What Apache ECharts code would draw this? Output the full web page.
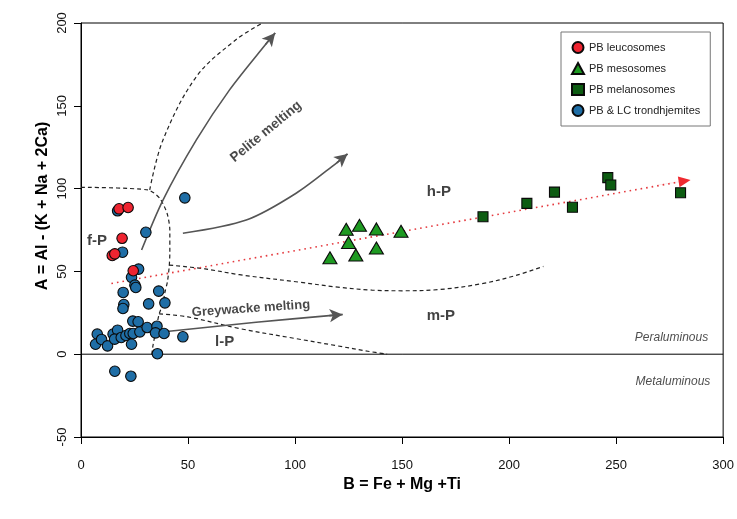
<!DOCTYPE html>
<html>
<head>
<meta charset="utf-8">
<script src="https://cdn.jsdelivr.net/npm/echarts@6/dist/echarts.min.js"></script>
<style>html,body{margin:0;padding:0;background:#fff}#c{width:737px;height:519px}</style>
</head>
<body>
<div id="c"></div>
<script>
// ---- data (B, A) ----
const leucosomes = [[17.8,87.8],[22.0,88.6],[19.2,70.0],[14.6,59.6],[15.8,60.6],[24.4,50.4]];
const mesosomes = [[123.9,75.4],[130.1,77.8],[138.0,75.6],[149.5,74.2],[125.0,67.5],[138.0,64.1],[128.4,59.9],[116.3,58.2]];
const melanosomes = [[187.8,83.0],[208.3,91.1],[221.2,97.9],[229.6,88.7],[246.1,106.6],[247.5,102.2],[280.1,97.5]];
const trondhjemites = [
  [48.5,94.4],[30.3,73.6],[19.4,61.6],[17.1,86.6],[26.9,51.4],[23.6,46.4],[25.2,41.7],[25.6,40.3],
  [19.7,37.3],[36.3,38.1],[20.0,30.0],[19.6,27.6],[31.6,30.4],[39.2,31.0],[24.2,20.0],[26.7,19.6],
  [7.6,12.1],[6.8,6.0],[9.6,8.9],[12.4,5.0],[15.0,12.1],[17.1,14.5],[15.7,9.1],[18.8,10.1],
  [21.0,11.3],[22.8,12.5],[24.4,12.5],[23.6,6.0],[27.5,13.5],[30.9,16.1],[35.5,16.9],[34.8,12.9],
  [38.8,12.5],[47.6,10.5],[35.7,0.3],[15.8,-10.3],[23.3,-13.3]
];
// ---- field boundaries & trends ----
const peliteArrow1 = [[28.3,62.9],[38.3,93.1],[53.9,129.4],[69.4,159.6],[86.2,187.0],[90.7,193.9]];
const peliteArrow2 = [[47.6,73],[77.2,81],[100.5,97.2],[119.5,115.6],[124.5,120.9]];
const greywackeArrow = [[40,13.7],[81.8,19.3],[116,23.3],[122.2,24]];
const peliteBoundary = [[32.1,99.2],[38.3,129.4],[53.9,167.6],[72.5,190],[84.9,200]];
const fpBoundary = [[0,100.8],[31.3,99.2],[36.8,94.1],[40.2,85.1],[41.5,75],[41.5,60.9],[41.2,52.8],[40.4,44],[39.1,36.7],[38.3,30.6],[36.5,24.2],[35,14.5],[33.6,5],[32.9,-2]];
const hpBoundary = [[41.2,53.8],[58,51.5],[74,48],[102,43.5],[120,40.5],[136,38.7],[150,38.3],[167,39],[187,42.5],[203,47.5],[216,53]];
const lpBoundary = [[36.5,24.4],[50,22.5],[74,15.5],[100,9.5],[120,5],[134,1.8],[143,0]];
const redTrend = [[14.2,42.7],[282,104.6]];
const zeroLine = [[0,0],[300,0]];
// ---- axes ----
const xTicks = {min:0, max:300, step:50};
const yTicks = {min:-50, max:200, step:50};
const xTitle = 'B = Fe + Mg +Ti';
const yTitle = 'A = Al - (K + Na + 2Ca)';
// ---- text labels ----
const annotations = [
  {name:'f-P', value:[7.5,68.3]},
  {name:'h-P', value:[167.2,97.9]},
  {name:'m-P', value:[168.1,23]},
  {name:'l-P', value:[67.1,7.3]}
];

const FONT = '"Liberation Sans", Arial, Helvetica, sans-serif';
const blk = '#000';

function dashed(data, extra) {
  return Object.assign({
    type:'line', data:data, smooth:0.35, symbol:'none', silent:true, z:2,
    lineStyle:{color:'#222', width:1.2, type:[4,3]}
  }, extra||{});
}
function arrow(data) {
  const n = data.length;
  return {
    type:'line', data:data, smooth:0.3, symbol:'none', silent:true, z:3,
    lineStyle:{color:'#555', width:1.6},
    markLine:{
      silent:true, animation:false, symbol:['none','arrow'], symbolSize:[10,13],
      label:{show:false},
      lineStyle:{color:'#555', width:1.6, type:'solid'},
      data:[[{coord:data[n-2]},{coord:data[n-1]}]]
    }
  };
}

const chart = echarts.init(document.getElementById('c'), null, {renderer:'canvas'});
chart.setOption({
  animation:false,
  backgroundColor:'#fff',
  textStyle:{fontFamily:FONT},
  grid:{left:81, right:12, top:23, bottom:82, show:true, borderColor:blk, borderWidth:1, backgroundColor:'transparent'},
  graphic:[
    {type:'text', x:43, y:206, rotation:Math.PI/2, silent:true,
     style:{text:yTitle, fill:blk, font:'bold 16px ' + FONT, textAlign:'center', textVerticalAlign:'middle'}}
  ],
  legend:{
    left:561, top:32, orient:'vertical', backgroundColor:'#fff',
    borderColor:'#777', borderWidth:1, padding:[9,10,9,10],
    itemWidth:12, itemHeight:11, itemGap:8,
    textStyle:{fontSize:11, color:'#222', fontFamily:FONT},
    data:[
      {name:'PB leucosomes', icon:'circle'},
      {name:'PB mesosomes', icon:'triangle'},
      {name:'PB melanosomes', icon:'rect'},
      {name:'PB & LC trondhjemites', icon:'circle'}
    ]
  },
  xAxis:{
    type:'value', min:xTicks.min, max:xTicks.max, interval:xTicks.step,
    name:xTitle, nameLocation:'middle', nameGap:39,
    nameTextStyle:{fontSize:16, fontWeight:'bold', color:blk, fontFamily:FONT},
    axisLine:{show:true, onZero:false, lineStyle:{color:blk, width:1}},
    axisTick:{show:true, inside:false, length:7, lineStyle:{color:blk}},
    axisLabel:{fontSize:13, color:'#111', margin:22},
    splitLine:{show:false}
  },
  yAxis:{
    type:'value', min:yTicks.min, max:yTicks.max, interval:yTicks.step,
    axisLine:{show:true, onZero:false, lineStyle:{color:blk, width:1}},
    axisTick:{show:true, inside:false, length:7, lineStyle:{color:blk}},
    axisLabel:{fontSize:13, color:'#111', rotate:90, margin:12},
    splitLine:{show:false}
  },
  series:[
    {type:'line', data:zeroLine, symbol:'none', silent:true, z:1, lineStyle:{color:blk, width:1}},
    dashed(peliteBoundary),
    dashed(fpBoundary, {smooth:0.25}),
    dashed(hpBoundary),
    dashed(lpBoundary),
    arrow(peliteArrow1),
    arrow(peliteArrow2),
    arrow(greywackeArrow),
    {type:'line', data:redTrend, symbol:'none', silent:true, z:3,
     lineStyle:{color:'#e53a3f', width:1.6, type:[1.6,4]},
     markLine:{silent:true, animation:false, symbol:['none','triangle'], symbolSize:[11,12],
       label:{show:false}, lineStyle:{color:'#ef2a30', width:0.1, type:'solid', opacity:1},
       data:[[{coord:[270,102.3]},{coord:redTrend[1]}]]}},
    {name:'PB & LC trondhjemites', type:'scatter', data:trondhjemites, symbol:'circle', symbolSize:10.5, z:5,
     itemStyle:{color:'#1f6ea6', borderColor:'#0a0a0a', borderWidth:1.1, opacity:1}},
    {name:'PB leucosomes', type:'scatter', data:leucosomes, symbol:'circle', symbolSize:10.5, z:6,
     itemStyle:{color:'#ee2430', borderColor:'#0a0a0a', borderWidth:1.1, opacity:1}},
    {name:'PB mesosomes', type:'scatter', data:mesosomes, symbol:'triangle', symbolSize:[14,12], z:5,
     itemStyle:{color:'#1e9a22', borderColor:'#0a0a0a', borderWidth:1.1, opacity:1}},
    {name:'PB melanosomes', type:'scatter', data:melanosomes, symbol:'rect', symbolSize:10, z:5,
     itemStyle:{color:'#0d5c12', borderColor:'#0a0a0a', borderWidth:1.1, opacity:1}},
    {type:'scatter', data:annotations, symbolSize:0, silent:true, z:4,
     label:{show:true, position:'inside', formatter:p=>p.name, fontSize:15, fontWeight:'bold', color:'#111', fontFamily:FONT}},
    {type:'scatter', silent:true, z:4, symbolSize:0,
     data:[
       {name:'Pelite melting', value:[86.4,134.4], label:{rotate:39.5, fontSize:13.5}},
       {name:'Greywacke melting', value:[79.4,27.5], label:{rotate:4, fontSize:13}},
     ],
     label:{show:true, position:'inside', formatter:p=>p.name, fontWeight:'bold', color:'#1a1a1a', fontFamily:FONT}},
    {type:'scatter', silent:true, z:4, symbolSize:0,
     data:[
       {name:'Peraluminous', value:[293,9.7]},
       {name:'Metaluminous', value:[294,-16.3]}
     ],
     label:{show:true, position:'inside', align:'right', formatter:p=>p.name, fontSize:12, fontStyle:'italic', color:'#222', fontFamily:FONT}}
  ]
});
</script>
</body>
</html>
